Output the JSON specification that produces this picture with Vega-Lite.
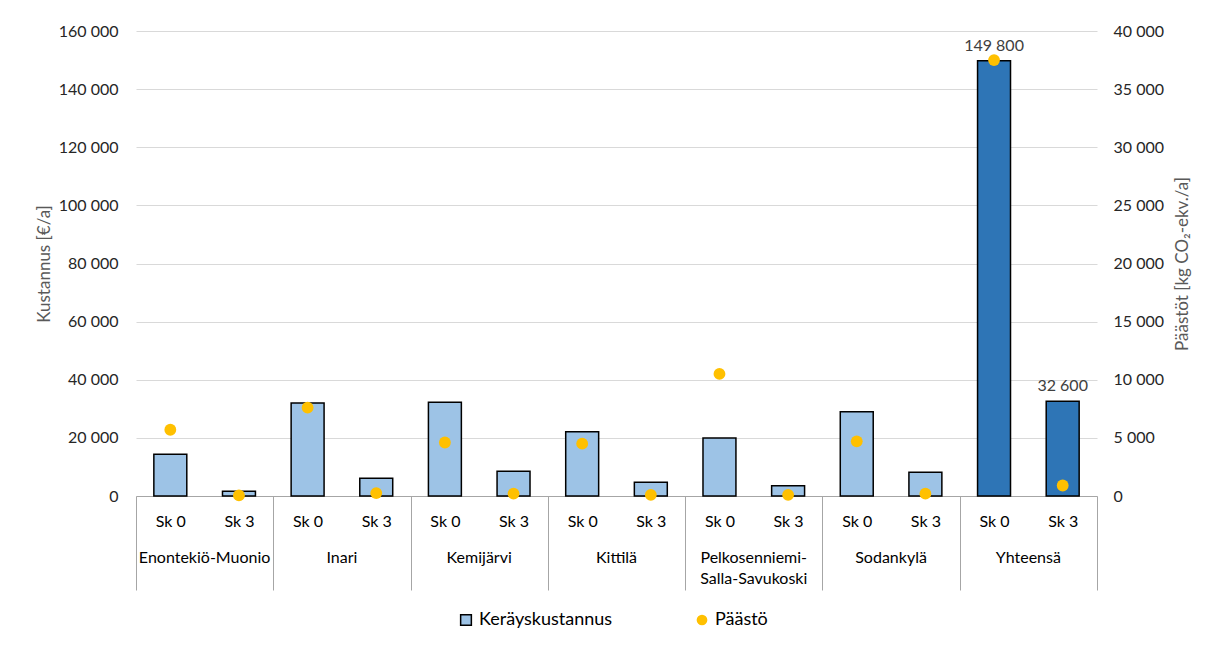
{
  "$schema": "https://vega.github.io/schema/vega-lite/v6.json",
  "width": 961,
  "height": 465,
  "autosize": {"type": "none"},
  "padding": {"left": 136, "top": 31, "right": 115, "bottom": 150},
  "background": "white",
  "config": {
    "font": "Lato",
    "view": {"stroke": null},
    "locale": {"number": {"decimal": ",", "thousands": " ", "grouping": [3], "currency": ["", " €"]}},
    "axis": {"labelFont": "Lato", "titleFont": "Lato", "labelFontSize": 16, "titleFontSize": 17, "labelColor": "#262626", "titleColor": "#595959", "titleFontWeight": "normal"}
  },
  "data": {"values": [
    {"key": "Enontekiö-Muonio|Sk 0", "region": "Enontekiö-Muonio", "sk": "Sk 0", "cost": 14400, "emission": 5700},
    {"key": "Enontekiö-Muonio|Sk 3", "region": "Enontekiö-Muonio", "sk": "Sk 3", "cost": 1600, "emission": 50},
    {"key": "Inari|Sk 0", "region": "Inari", "sk": "Sk 0", "cost": 32000, "emission": 7600},
    {"key": "Inari|Sk 3", "region": "Inari", "sk": "Sk 3", "cost": 6100, "emission": 250},
    {"key": "Kemijärvi|Sk 0", "region": "Kemijärvi", "sk": "Sk 0", "cost": 32300, "emission": 4600},
    {"key": "Kemijärvi|Sk 3", "region": "Kemijärvi", "sk": "Sk 3", "cost": 8500, "emission": 200},
    {"key": "Kittilä|Sk 0", "region": "Kittilä", "sk": "Sk 0", "cost": 22100, "emission": 4500},
    {"key": "Kittilä|Sk 3", "region": "Kittilä", "sk": "Sk 3", "cost": 4700, "emission": 100},
    {"key": "Pelkosenniemi-Salla-Savukoski|Sk 0", "region": "Pelkosenniemi-Salla-Savukoski", "sk": "Sk 0", "cost": 20000, "emission": 10500},
    {"key": "Pelkosenniemi-Salla-Savukoski|Sk 3", "region": "Pelkosenniemi-Salla-Savukoski", "sk": "Sk 3", "cost": 3500, "emission": 100},
    {"key": "Sodankylä|Sk 0", "region": "Sodankylä", "sk": "Sk 0", "cost": 29000, "emission": 4700},
    {"key": "Sodankylä|Sk 3", "region": "Sodankylä", "sk": "Sk 3", "cost": 8200, "emission": 200},
    {"key": "Yhteensä|Sk 0", "region": "Yhteensä", "sk": "Sk 0", "cost": 149800, "emission": 37500},
    {"key": "Yhteensä|Sk 3", "region": "Yhteensä", "sk": "Sk 3", "cost": 32600, "emission": 900}
  ]},
  "resolve": {"scale": {"y": "independent"}, "axis": {"x": "independent"}},
  "layer": [
    {
      "layer": [
        {
          "mark": {"type": "bar", "width": {"band": 0.48}, "stroke": "#000000", "strokeWidth": 1.5},
          "encoding": {
            "x": {"field": "key", "type": "nominal", "sort": null,
              "scale": {"paddingInner": 0, "paddingOuter": 0},
              "axis": {"orient": "bottom", "title": null, "labelAngle": 0, "labelExpr": "split(datum.value, '|')[1]", "labelColor": "#000000",
                "tickBand": "extent", "ticks": true, "tickSize": 94, "tickWidth": 1, "labelPadding": -77, "labelOverlap": false,
                "tickColor": {"condition": {"test": "datum.extra || indexof(datum.value + '', 'Sk 3') >= 0", "value": "#a6a6a6"}, "value": "transparent"},
                "domain": true, "domainColor": "#a6a6a6", "domainWidth": 1, "grid": false}},
            "y": {"field": "cost", "type": "quantitative",
              "scale": {"domain": [0, 160000], "nice": false},
              "axis": {"orient": "left", "title": "Kustannus [€/a]", "values": [0, 20000, 40000, 60000, 80000, 100000, 120000, 140000, 160000],
                "format": ",d", "ticks": false, "domain": false, "grid": true, "gridColor": "#d9d9d9", "gridWidth": 1, "labelPadding": 18, "titlePadding": 5}},
            "color": {
              "condition": {"test": "datum.region === 'Yhteensä'", "value": "#2e75b6"},
              "datum": "Keräyskustannus", "type": "nominal",
              "scale": {"domain": ["Keräyskustannus", "Päästö"], "range": ["#9dc3e6", "#ffc000"]},
              "legend": {"title": null, "orient": "none", "legendX": 321, "legendY": 580, "direction": "horizontal", "labelFontSize": 18, "labelFont": "Lato", "labelColor": "#000000",
                "symbolSize": 115, "columnPadding": 80, "labelOffset": 4,
                "symbolStrokeColor": {"expr": "datum.value === 'Päästö' ? 'transparent' : '#000000'"},
                "symbolStrokeWidth": 1.5}
            }
          }
        },
        {
          "transform": [{"filter": "datum.region === 'Yhteensä'"}],
          "mark": {"type": "text", "baseline": "bottom", "align": "center", "dy": -7, "fontSize": 16, "font": "Lato", "color": "#404040"},
          "encoding": {
            "x": {"field": "key", "type": "nominal", "sort": null},
            "y": {"field": "cost", "type": "quantitative"},
            "text": {"field": "cost", "type": "quantitative", "format": ",d"}
          }
        }
      ]
    },
    {
      "mark": {"type": "point", "filled": true, "size": 140, "opacity": 1, "strokeWidth": 0},
      "encoding": {
        "x": {"field": "key", "type": "nominal", "sort": null,
          "axis": {"orient": "bottom", "title": null, "labelAngle": 0, "labelOffset": 34.3, "ticks": false, "domain": false, "grid": false,
            "labelExpr": "indexof(datum.value, 'Sk 0') >= 0 ? split(split(datum.value, '|')[0], 'Salla-').length > 1 ? ['Pelkosenniemi-', 'Salla-Savukoski'] : split(datum.value, '|')[0] : ''",
            "labelPadding": 53, "labelOverlap": false, "labelLineHeight": 21, "labelColor": "#000000", "labelBaseline": "top"}},
        "y": {"field": "emission", "type": "quantitative",
          "scale": {"domain": [0, 40000], "nice": false},
          "axis": {"orient": "right", "title": "Päästöt [kg CO₂-ekv./a]", "titleAngle": 270, "titleBaseline": "top", "values": [0, 5000, 10000, 15000, 20000, 25000, 30000, 35000, 40000],
            "format": ",d", "ticks": false, "domain": false, "grid": false, "labelPadding": 16, "titlePadding": 11}},
        "color": {"datum": "Päästö", "type": "nominal"},
        "shape": {"datum": "Päästö", "type": "nominal", "scale": {"domain": ["Keräyskustannus", "Päästö"], "range": ["square", "circle"]}}
      }
    }
  ]
}
